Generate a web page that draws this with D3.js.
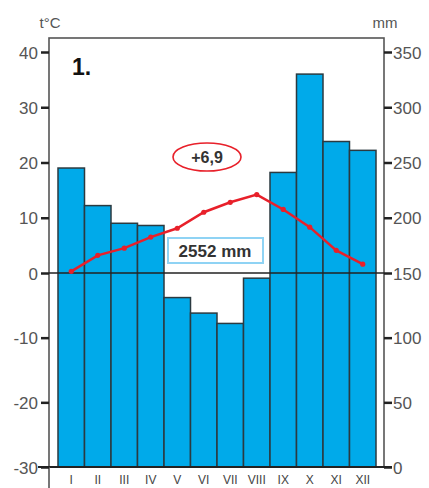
<!DOCTYPE html>
<html>
<head>
<meta charset="utf-8">
<script src="https://cdn.jsdelivr.net/npm/d3@7"></script>
<style>
  body { margin: 0; background: #fff; }
  svg { display: block; }
  .tick-text { font-family: "Liberation Sans Narrow", "Liberation Sans", Arial, sans-serif; fill: #555; }
</style>
</head>
<body>
<div id="chart"></div>
<script>
const months = ["I", "II", "III", "IV", "V", "VI", "VII", "VIII", "IX", "X", "XI", "XII"];
const precipitation = [245, 211, 195, 193, 131, 119, 111, 146, 241, 330, 269, 261];
const temperature = [0.3, 3.2, 4.5, 6.5, 8.1, 11.0, 12.8, 14.2, 11.5, 8.3, 4.1, 1.6];
const tempTicks = [-30, -20, -10, 0, 10, 20, 30, 40];
const precTicks = [0, 50, 100, 150, 200, 250, 300, 350];
const stationLabel = "1.";
const meanTemp = "+6,9";
const totalPrec = "2552 mm";

const width = 429, height = 488;
const frame = { left: 49, right: 384, top: 38, bottom: 467 };

const svg = d3.select("#chart").append("svg")
    .attr("width", width)
    .attr("height", height);

// the diagram uses a different step above and below zero
const yTemp = d3.scaleLinear().domain([-30, 0, 40]).range([467, 273, 52]);
const yPrec = d3.scaleLinear().domain([0, 150, 350]).range([467, 273, 52]);
const x = d3.scaleBand().domain(months).range([58, 376]).padding(0);

// frame
svg.append("rect")
    .attr("x", frame.left)
    .attr("y", frame.top)
    .attr("width", frame.right - frame.left)
    .attr("height", frame.bottom - frame.top)
    .attr("fill", "none")
    .attr("stroke", "#555")
    .attr("stroke-width", 1.6);

// precipitation bars
svg.append("g").selectAll("rect")
    .data(precipitation)
    .enter().append("rect")
    .attr("x", (d, i) => x(months[i]))
    .attr("y", d => yPrec(d))
    .attr("width", x.bandwidth())
    .attr("height", d => yPrec(0) - yPrec(d))
    .attr("fill", "#00aaea")
    .attr("stroke", "#2b3a40")
    .attr("stroke-width", 1.5);

// zero line
svg.append("line")
    .attr("x1", frame.left).attr("x2", frame.right)
    .attr("y1", yTemp(0)).attr("y2", yTemp(0))
    .attr("stroke", "#222")
    .attr("stroke-width", 1.6);

// bottom line, running a little past the frame
svg.append("line")
    .attr("x1", 38).attr("x2", 392)
    .attr("y1", frame.bottom).attr("y2", frame.bottom)
    .attr("stroke", "#222")
    .attr("stroke-width", 2);
svg.append("line")
    .attr("x1", frame.left).attr("x2", frame.left)
    .attr("y1", frame.bottom).attr("y2", height)
    .attr("stroke", "#555")
    .attr("stroke-width", 1.6);

// left axis
const leftAxis = svg.append("g")
    .attr("transform", `translate(${frame.left},0)`)
    .call(d3.axisLeft(yTemp).tickValues(tempTicks).tickSize(8).tickPadding(3).tickFormat(d => String(d)));
leftAxis.select(".domain").remove();
leftAxis.selectAll(".tick line").attr("stroke", "#222").attr("stroke-width", 2.5);
leftAxis.selectAll(".tick text")
    .attr("class", "tick-text")
    .style("font-size", "17px")
    .attr("dy", "0.36em");

// right axis
const rightAxis = svg.append("g")
    .attr("transform", `translate(${frame.right},0)`)
    .call(d3.axisRight(yPrec).tickValues(precTicks).tickSize(8).tickPadding(1).tickFormat(d => String(d)));
rightAxis.select(".domain").remove();
rightAxis.selectAll(".tick line").attr("stroke", "#222").attr("stroke-width", 2.5);
rightAxis.selectAll(".tick text")
    .attr("class", "tick-text")
    .style("font-size", "17px")
    .attr("dy", "0.36em");

// month labels
svg.append("g").selectAll("text")
    .data(months)
    .enter().append("text")
    .attr("class", "tick-text")
    .attr("x", d => x(d) + x.bandwidth() / 2)
    .attr("y", 484)
    .attr("text-anchor", "middle")
    .style("font-size", "12px")
    .style("fill", "#444")
    .text(d => d);

// axis titles
svg.append("text")
    .attr("class", "tick-text")
    .attr("x", 50).attr("y", 28)
    .attr("text-anchor", "middle")
    .style("font-size", "15px")
    .text("t°C");
svg.append("text")
    .attr("class", "tick-text")
    .attr("x", 385).attr("y", 28)
    .attr("text-anchor", "middle")
    .style("font-size", "15px")
    .text("mm");

// temperature line
const line = d3.line()
    .x((d, i) => x(months[i]) + x.bandwidth() / 2)
    .y(d => yTemp(d));
svg.append("path")
    .datum(temperature)
    .attr("d", line)
    .attr("fill", "none")
    .attr("stroke", "#e8202a")
    .attr("stroke-width", 2.5);
svg.append("g").selectAll("circle")
    .data(temperature)
    .enter().append("circle")
    .attr("cx", (d, i) => x(months[i]) + x.bandwidth() / 2)
    .attr("cy", d => yTemp(d))
    .attr("r", 2.6)
    .attr("fill", "#e8202a");

// station number
svg.append("text")
    .attr("x", 72).attr("y", 75)
    .style("font-family", "Liberation Sans, Arial, sans-serif")
    .style("font-size", "23px")
    .style("font-weight", "bold")
    .style("fill", "#111")
    .text(stationLabel);

// mean temperature in an ellipse
svg.append("ellipse")
    .attr("cx", 207).attr("cy", 157)
    .attr("rx", 34).attr("ry", 14)
    .attr("fill", "#fff")
    .attr("stroke", "#e8202a")
    .attr("stroke-width", 1.6);
svg.append("text")
    .attr("x", 207).attr("y", 163)
    .attr("text-anchor", "middle")
    .style("font-family", "Liberation Sans, Arial, sans-serif")
    .style("font-size", "16px")
    .style("font-weight", "bold")
    .style("fill", "#333")
    .text(meanTemp);

// yearly total in a box
svg.append("rect")
    .attr("x", 168).attr("y", 238)
    .attr("width", 95).attr("height", 25)
    .attr("fill", "#fff")
    .attr("stroke", "#8fd3f4")
    .attr("stroke-width", 2);
svg.append("text")
    .attr("x", 215).attr("y", 257)
    .attr("text-anchor", "middle")
    .style("font-family", "Liberation Sans, Arial, sans-serif")
    .style("font-size", "17px")
    .style("font-weight", "bold")
    .style("fill", "#333")
    .text(totalPrec);
</script>
</body>
</html>
